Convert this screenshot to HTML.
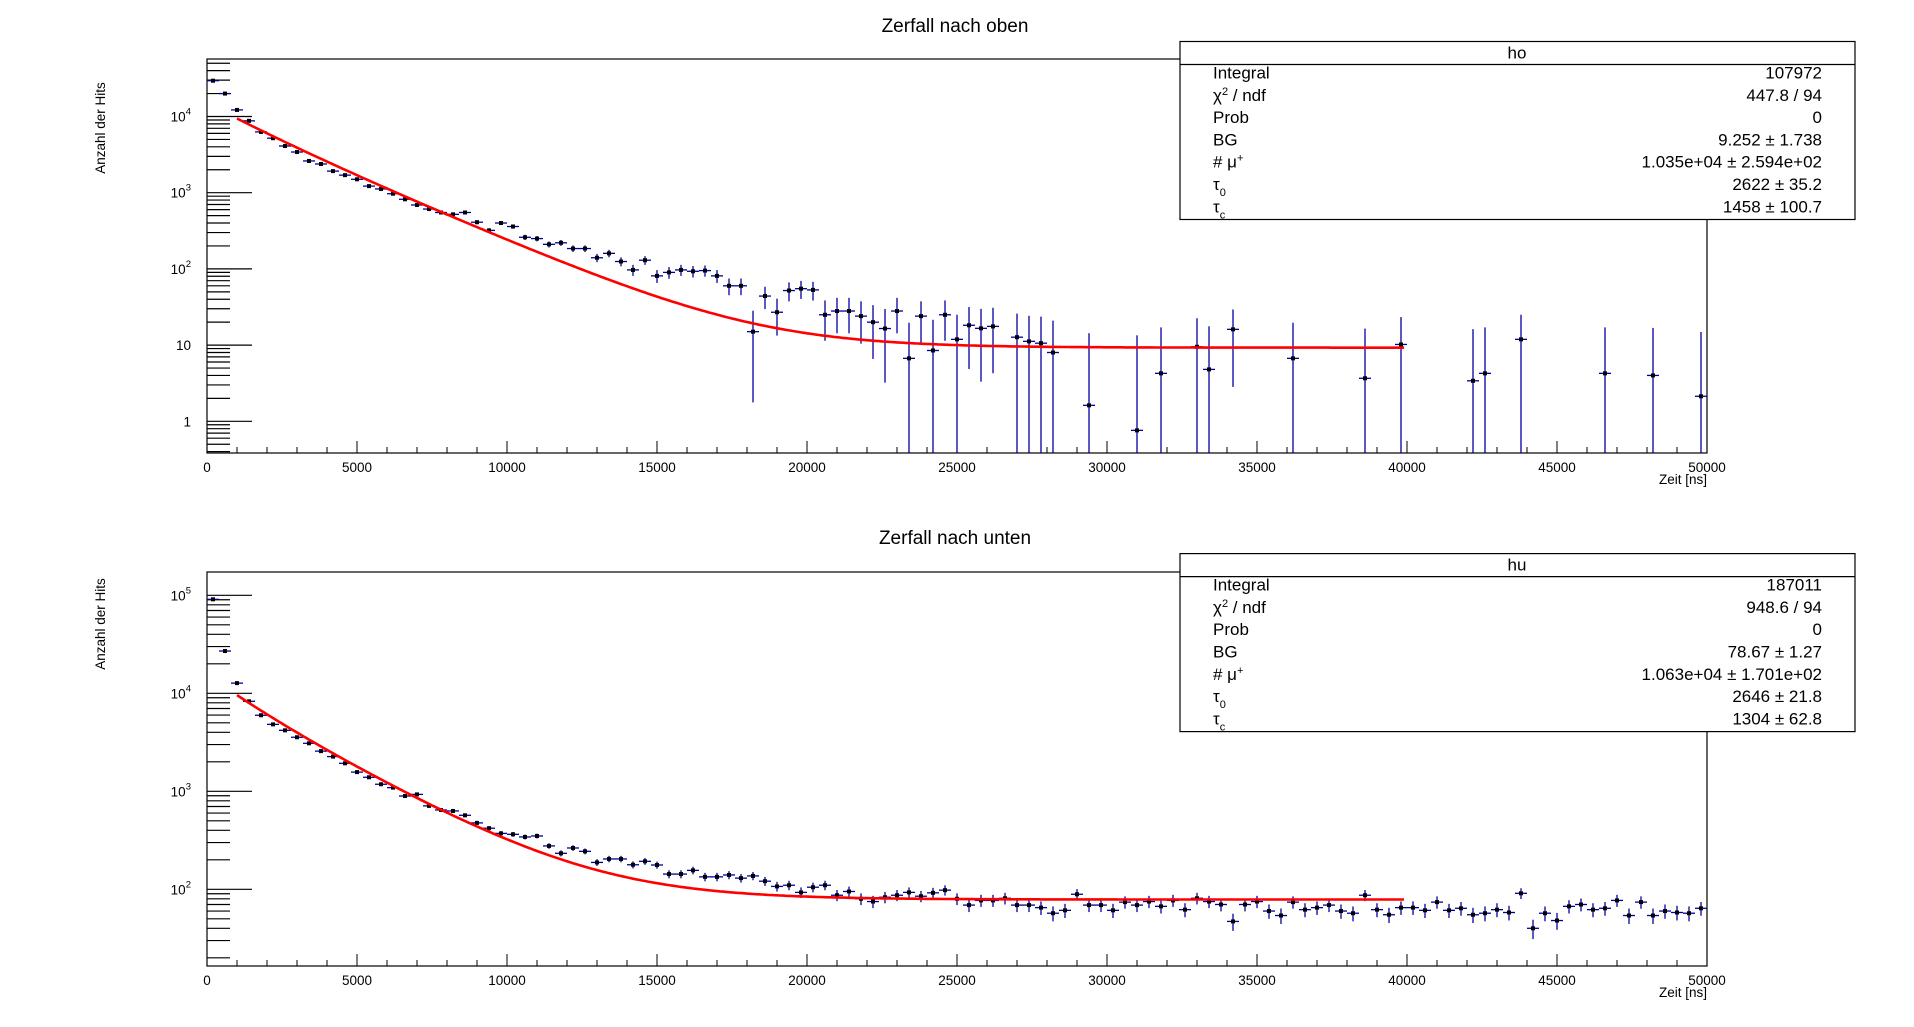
<!DOCTYPE html>
<html><head><meta charset="utf-8"><style>
body{margin:0;background:#fff;}
svg{display:block;font-family:"Liberation Sans",sans-serif;}
</style></head><body>
<svg id="c" width="1914" height="1027" viewBox="0 0 1914 1027"></svg>
<script>
// ---- data ----
const topHeadValues=[29500,20000,12200,8770,6280,5190,4100,3420,2610,2380,
1920,1700,1500,1220,1120,970,820,690,610,550,
520,550,410,320,400,360,260,250,210,220,
185,185,140,160,125,97,130,81,90,97,
93,95,81,60,60,15,44,27,52,55,
53,25,28,28,24,20,16.5,28,6.7,24,
8.5,25];
const topTailTimes=[25000,25400,25800,26200,27000,27400,27800,28200,29400,31000,31800,33000,33400,34200,36200,38600,39800,42200,42600,43800,46600,48200,49800];
const topTailValues=[11.9,18.2,16.6,17.6,12.7,11.2,10.6,8.0,1.62,0.76,4.26,9.5,4.8,16.1,6.7,3.67,10.2,3.4,4.26,11.9,4.26,4.0,2.13];
const botValues=[91000,27000,12700,8280,5970,4820,4190,3560,3090,2570,
2260,1930,1570,1390,1180,1090,895,930,710,645,
630,569,476,420,372,364,342,350,277,233,
264,244,188,204,204,178,193,177,143,143,
156,134,134,140,130,137,121,
107,110,93,105,110,87,95,80,75,83,87,93,85,92,98,
80,69,77,77,81,69,69,65,57,61,89,69,69,61,74,69,75,67,77,62,81,75,70,47,70,75,
60,54,74,62,65,69,60,57,87,62,55,65,65,61,74,61,64,55,57,62,58,91,40,57,48,67,70,62,64,77,54,74,54,60,58,57,64];
const xTickLabels=["0","5000","10000","15000","20000","25000","30000","35000","40000","45000","50000"];
const topFit={bg:9.252,n:10350,tau0:2622,tauc:1458};
const botFit={bg:78.67,n:10630,tau0:2646,tauc:1304};
const topStats=[["Integral","107972"],["χ<tspan baseline-shift='super' font-size='11'>2</tspan> / ndf","447.8 / 94"],["Prob","0"],["BG","9.252 ± 1.738"],["# μ<tspan baseline-shift='super' font-size='11'>+</tspan>","1.035e+04 ± 2.594e+02"],["τ<tspan baseline-shift='sub' font-size='11'>0</tspan>","2622 ± 35.2"],["τ<tspan baseline-shift='sub' font-size='11'>c</tspan>","1458 ± 100.7"]];
const botStats=[["Integral","187011"],["χ<tspan baseline-shift='super' font-size='11'>2</tspan> / ndf","948.6 / 94"],["Prob","0"],["BG","78.67 ± 1.27"],["# μ<tspan baseline-shift='super' font-size='11'>+</tspan>","1.063e+04 ± 1.701e+02"],["τ<tspan baseline-shift='sub' font-size='11'>0</tspan>","2646 ± 21.8"],["τ<tspan baseline-shift='sub' font-size='11'>c</tspan>","1304 ± 62.8"]];

const svg=document.getElementById('c');
const NS='http://www.w3.org/2000/svg';
function mk(tag,at,parent){const e=document.createElementNS(NS,tag);for(const k in at)e.setAttribute(k,at[k]);(parent||svg).appendChild(e);return e;}

function panel(cfg){
  const g=mk('g',{});
  
  
  const L=207,R=1707,T=cfg.top,B=cfg.bottom;
  const xs=t=>L+(t/50000)*(R-L);
  const ys=v=>cfg.y0-(Math.log10(v)-cfg.d0)*cfg.dec;
  const vmin=Math.pow(10,cfg.d0-(B-cfg.y0)/cfg.dec);
  // frame
  const fr=mk('rect',{x:L,y:T,width:R-L,height:B-T,fill:'none',stroke:'#000','stroke-width':1.2},g);
  
  
  // title
  const ti=mk('text',{x:955,y:cfg.titleY,'text-anchor':'middle','font-size':19},g);ti.textContent=cfg.title;
  
  
  // y title
  const yt=mk('text',{x:0,y:0,'text-anchor':'middle','font-size':13.5,transform:`translate(105,${cfg.ytY}) rotate(-90)`},g);yt.textContent='Anzahl der Hits';
  
  
  // x ticks
  for(let t=0;t<=50000;t+=1000){
    const maj=t%5000===0;
    const tk=mk('line',{x1:xs(t),x2:xs(t),y1:B,y2:B-(maj?12:6),stroke:'#000','stroke-width':1},g);
    
    
  }
  xTickLabels.forEach((s,i)=>{
    const tl=mk('text',{x:xs(i*5000),y:B+19,'text-anchor':'middle','font-size':13.5},g);tl.textContent=s;
    
    
  });
  const xt=mk('text',{x:R,y:B+31,'text-anchor':'end','font-size':13.5},g);xt.textContent='Zeit [ns]';
  
  
  // y ticks
  for(let d=-1;d<=6;d++){
    for(let m=1;m<=9;m++){
      const v=m*Math.pow(10,d);const y=ys(v);
      if(y<T||y>B)continue;
      const yk=mk('line',{x1:L,x2:L+(m===1?45:23),y1:y,y2:y,stroke:'#000','stroke-width':1.2},g);
      
      
      if(m===1){
        const lb=mk('text',{x:191,y:y+5,'text-anchor':'end','font-size':13.5},g);
        if(d<=1){lb.textContent=String(Math.round(v));}
        else{lb.innerHTML=`10<tspan dy="-7" font-size="9.5">${d}</tspan>`;}
        
        
      }
    }
  }
  // data points
  cfg.times.forEach((t,i)=>{
    const v=cfg.values[i];if(!(v>0))return;
    const e=Math.sqrt(v+cfg.errC);
    const x=xs(t),y=ys(v);
    const yTop=Math.max(T,ys(v+e));
    const yBot=(v-e)>vmin?ys(v-e):B;
    const pg=mk('g',{},g);
    
    
    mk('line',{x1:x,x2:x,y1:yTop,y2:Math.min(B,yBot),stroke:'#0000a0','stroke-width':1.3},pg);
    mk('line',{x1:xs(t-200),x2:xs(t+200),y1:y,y2:y,stroke:'#0000a0','stroke-width':1.3},pg);
    mk('rect',{x:x-2,y:y-2,width:4,height:4,fill:'#000'},pg);
  });
  // fit
  const f=cfg.fit;let d='';
  for(let t=1000;t<=39900;t+=100){
    const v=f.bg+f.n*Math.exp(-t/f.tau0)+0.45*f.n*Math.exp(-t/f.tauc);
    d+=(t===1000?'M':'L')+xs(t).toFixed(1)+','+ys(v).toFixed(1);
  }
  const fp=mk('path',{d:d,fill:'none',stroke:'#ff0000','stroke-width':2.6},g);
  
  
  // stats box
  const sb=mk('g',{},g);
  
  
  const bt=cfg.boxTop;
  mk('rect',{x:1180,y:bt,width:675,height:178,fill:'#fff',stroke:'#000','stroke-width':1.2},sb);
  mk('line',{x1:1180,x2:1855,y1:bt+23,y2:bt+23,stroke:'#000','stroke-width':1.2},sb);
  const hn=mk('text',{x:1517,y:bt+17,'text-anchor':'middle','font-size':17},sb);hn.textContent=cfg.hname;
  cfg.stats.forEach((r,i)=>{
    const yy=bt+37+i*22.3;
    const a=mk('text',{x:1213,y:yy,'font-size':17},sb);a.innerHTML=r[0];
    const b=mk('text',{x:1822,y:yy,'text-anchor':'end','font-size':17},sb);b.textContent=r[1];
  });
}
const topTimes=topHeadValues.map((_,i)=>200+400*i).concat(topTailTimes);
const topVals=topHeadValues.concat(topTailValues);
panel({name:'top-panel',title:'Zerfall nach oben',titleY:32,ytY:128,top:59,bottom:453,y0:421.3,d0:0,dec:76.2,
  times:topTimes,values:topVals,errC:160,fit:topFit,boxTop:41.5,hname:'ho',stats:topStats});
panel({name:'bottom-panel',title:'Zerfall nach unten',titleY:544,ytY:624,top:572,bottom:966,y0:889.3,d0:2,dec:98,
  times:botValues.map((_,i)=>200+400*i),values:botValues,errC:40,fit:botFit,boxTop:553.6,hname:'hu',stats:botStats});
</script>
</body></html>
